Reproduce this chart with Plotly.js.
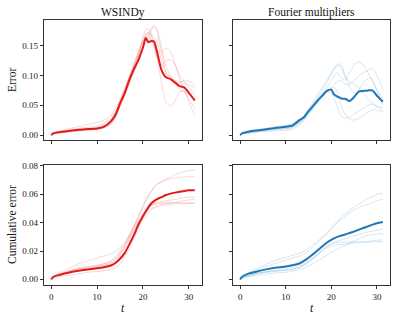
<!DOCTYPE html>
<html>
<head>
<meta charset="utf-8">
<script src="https://cdn.plot.ly/plotly-3.0.1.min.js"></script>
<style>
  html, body { margin: 0; padding: 0; background: #fff; }
  #plot { width: 397px; height: 321px; }
</style>
</head>
<body>
<div id="plot"></div>
<script>
const t = [0, 0.5, 2, 4, 6, 8, 10, 11.5, 13, 14, 15, 16, 17, 18, 19, 20, 20.6, 21.2, 21.8, 22.4, 23, 24, 25, 26, 27, 28, 29, 30, 31.3];

// WSINDy error: mean + individual runs
const wsErrMean = [0, 0.003, 0.005, 0.007, 0.009, 0.010, 0.011, 0.014, 0.023, 0.034, 0.053, 0.070, 0.092, 0.110, 0.126, 0.147, 0.163, 0.156, 0.158, 0.157, 0.142, 0.110, 0.097, 0.094, 0.088, 0.082, 0.080, 0.071, 0.058];
const wsErrRuns = [
  [0, 0.004, 0.007, 0.011, 0.014, 0.018, 0.021, 0.025, 0.033, 0.045, 0.060, 0.078, 0.097, 0.115, 0.132, 0.150, 0.160, 0.170, 0.180, 0.183, 0.175, 0.140, 0.105, 0.095, 0.092, 0.090, 0.088, 0.084, 0.080],
  [0, 0.002, 0.004, 0.006, 0.008, 0.009, 0.010, 0.013, 0.020, 0.030, 0.048, 0.068, 0.090, 0.112, 0.135, 0.165, 0.177, 0.178, 0.170, 0.155, 0.140, 0.140, 0.146, 0.140, 0.120, 0.100, 0.090, 0.080, 0.070],
  [0, 0.003, 0.005, 0.007, 0.009, 0.011, 0.013, 0.016, 0.024, 0.036, 0.055, 0.075, 0.095, 0.115, 0.135, 0.155, 0.168, 0.172, 0.165, 0.150, 0.132, 0.118, 0.125, 0.127, 0.118, 0.095, 0.075, 0.060, 0.045],
  [0, 0.002, 0.004, 0.005, 0.007, 0.008, 0.009, 0.012, 0.018, 0.030, 0.050, 0.072, 0.095, 0.120, 0.140, 0.158, 0.165, 0.168, 0.160, 0.150, 0.130, 0.090, 0.055, 0.048, 0.058, 0.072, 0.074, 0.055, 0.033],
  [0, 0.003, 0.006, 0.009, 0.011, 0.013, 0.015, 0.019, 0.028, 0.040, 0.058, 0.076, 0.098, 0.118, 0.138, 0.160, 0.170, 0.172, 0.168, 0.165, 0.160, 0.125, 0.105, 0.098, 0.090, 0.088, 0.092, 0.090, 0.085],
  [0, 0.003, 0.005, 0.006, 0.007, 0.009, 0.010, 0.012, 0.019, 0.030, 0.048, 0.066, 0.086, 0.105, 0.125, 0.145, 0.155, 0.162, 0.175, 0.184, 0.178, 0.150, 0.115, 0.100, 0.090, 0.078, 0.072, 0.070, 0.068]
];

// Fourier multipliers error
const fmErrMean = [0, 0.003, 0.006, 0.008, 0.010, 0.012, 0.014, 0.016, 0.025, 0.030, 0.040, 0.049, 0.058, 0.066, 0.074, 0.076, 0.068, 0.065, 0.063, 0.061, 0.061, 0.057, 0.064, 0.073, 0.074, 0.075, 0.075, 0.066, 0.056];
const fmErrRuns = [
  [0, 0.003, 0.006, 0.009, 0.012, 0.014, 0.016, 0.019, 0.026, 0.033, 0.042, 0.052, 0.063, 0.075, 0.088, 0.102, 0.110, 0.116, 0.117, 0.110, 0.098, 0.090, 0.085, 0.080, 0.070, 0.060, 0.053, 0.048, 0.046],
  [0, 0.002, 0.004, 0.006, 0.008, 0.009, 0.010, 0.013, 0.020, 0.028, 0.038, 0.048, 0.058, 0.066, 0.072, 0.070, 0.062, 0.050, 0.038, 0.030, 0.028, 0.030, 0.035, 0.040, 0.045, 0.050, 0.052, 0.048, 0.040],
  [0, 0.003, 0.005, 0.008, 0.010, 0.012, 0.013, 0.016, 0.022, 0.030, 0.040, 0.050, 0.060, 0.070, 0.080, 0.092, 0.100, 0.105, 0.100, 0.094, 0.092, 0.105, 0.118, 0.123, 0.118, 0.105, 0.090, 0.075, 0.060],
  [0, 0.002, 0.004, 0.006, 0.008, 0.010, 0.011, 0.013, 0.019, 0.026, 0.036, 0.046, 0.056, 0.066, 0.074, 0.080, 0.085, 0.090, 0.092, 0.090, 0.085, 0.085, 0.092, 0.100, 0.105, 0.108, 0.112, 0.100, 0.076],
  [0, 0.002, 0.003, 0.005, 0.006, 0.007, 0.008, 0.010, 0.016, 0.024, 0.034, 0.044, 0.054, 0.064, 0.072, 0.078, 0.080, 0.074, 0.060, 0.045, 0.035, 0.027, 0.025, 0.028, 0.033, 0.038, 0.042, 0.042, 0.039],
  [0, 0.003, 0.005, 0.007, 0.009, 0.011, 0.012, 0.015, 0.022, 0.032, 0.044, 0.056, 0.068, 0.080, 0.092, 0.104, 0.112, 0.118, 0.120, 0.115, 0.100, 0.080, 0.070, 0.075, 0.088, 0.095, 0.094, 0.075, 0.050]
];

// WSINDy cumulative error
const wsCumMean = [0, 0.0018, 0.0033, 0.0048, 0.0060, 0.0070, 0.0078, 0.0086, 0.0098, 0.0115, 0.0145, 0.0185, 0.0245, 0.031, 0.0385, 0.0445, 0.0478, 0.0510, 0.0535, 0.0552, 0.0565, 0.058, 0.0595, 0.0605, 0.0612, 0.0618, 0.0624, 0.0628, 0.0628];
const wsCumRuns = [
  [0, 0.002, 0.005, 0.008, 0.011, 0.013, 0.015, 0.0165, 0.018, 0.0195, 0.022, 0.026, 0.031, 0.037, 0.044, 0.051, 0.055, 0.059, 0.062, 0.065, 0.067, 0.069, 0.071, 0.072, 0.074, 0.075, 0.076, 0.0768, 0.0772],
  [0, 0.002, 0.004, 0.006, 0.008, 0.009, 0.010, 0.011, 0.0125, 0.015, 0.019, 0.024, 0.030, 0.037, 0.045, 0.052, 0.056, 0.059, 0.062, 0.065, 0.067, 0.0685, 0.070, 0.071, 0.0715, 0.072, 0.0722, 0.0725, 0.0725],
  [0, 0.0015, 0.003, 0.005, 0.0065, 0.0075, 0.0085, 0.0095, 0.011, 0.013, 0.017, 0.022, 0.028, 0.034, 0.040, 0.045, 0.047, 0.049, 0.050, 0.051, 0.052, 0.053, 0.0535, 0.054, 0.0545, 0.055, 0.0555, 0.056, 0.0565],
  [0, 0.001, 0.002, 0.003, 0.004, 0.005, 0.0055, 0.006, 0.0068, 0.008, 0.011, 0.016, 0.022, 0.029, 0.036, 0.042, 0.045, 0.047, 0.049, 0.050, 0.051, 0.052, 0.0525, 0.053, 0.0532, 0.0535, 0.0537, 0.054, 0.054],
  [0, 0.0015, 0.0035, 0.0055, 0.007, 0.008, 0.009, 0.010, 0.0115, 0.014, 0.018, 0.023, 0.029, 0.035, 0.041, 0.046, 0.049, 0.051, 0.052, 0.053, 0.0535, 0.054, 0.054, 0.054, 0.054, 0.054, 0.0538, 0.0536, 0.0535],
  [0, 0.002, 0.004, 0.006, 0.0075, 0.0085, 0.0095, 0.011, 0.013, 0.016, 0.020, 0.025, 0.031, 0.037, 0.042, 0.046, 0.048, 0.050, 0.052, 0.053, 0.054, 0.055, 0.0555, 0.056, 0.0565, 0.057, 0.0575, 0.058, 0.058]
];

// Fourier multipliers cumulative error
const fmCumMean = [0, 0.002, 0.0042, 0.0058, 0.0072, 0.0083, 0.0091, 0.0099, 0.0112, 0.013, 0.0152, 0.0178, 0.0205, 0.0232, 0.0258, 0.0278, 0.0289, 0.0298, 0.0305, 0.0311, 0.0316, 0.0327, 0.0338, 0.035, 0.0362, 0.0374, 0.0386, 0.0396, 0.0404];
const fmCumRuns = [
  [0, 0.002, 0.005, 0.008, 0.011, 0.0135, 0.0155, 0.017, 0.0185, 0.020, 0.022, 0.0245, 0.027, 0.030, 0.033, 0.0365, 0.0385, 0.0405, 0.0425, 0.0445, 0.046, 0.049, 0.051, 0.053, 0.055, 0.057, 0.0585, 0.060, 0.0607],
  [0, 0.002, 0.0045, 0.007, 0.0095, 0.0115, 0.0135, 0.015, 0.0165, 0.018, 0.020, 0.023, 0.026, 0.029, 0.032, 0.0355, 0.0375, 0.0395, 0.0415, 0.043, 0.0445, 0.047, 0.049, 0.0505, 0.052, 0.053, 0.054, 0.0555, 0.0565],
  [0, 0.0015, 0.003, 0.0045, 0.0055, 0.0065, 0.0075, 0.0085, 0.0095, 0.011, 0.013, 0.0155, 0.018, 0.0205, 0.023, 0.025, 0.026, 0.027, 0.0275, 0.028, 0.0285, 0.0295, 0.0305, 0.0315, 0.0325, 0.0335, 0.034, 0.0348, 0.0353],
  [0, 0.001, 0.002, 0.003, 0.0038, 0.0045, 0.005, 0.0058, 0.0068, 0.008, 0.0095, 0.011, 0.013, 0.015, 0.017, 0.019, 0.020, 0.021, 0.022, 0.023, 0.024, 0.0255, 0.027, 0.0285, 0.030, 0.031, 0.0315, 0.032, 0.0325],
  [0, 0.0015, 0.003, 0.0045, 0.0055, 0.006, 0.0065, 0.0072, 0.0085, 0.010, 0.0125, 0.015, 0.018, 0.021, 0.0235, 0.025, 0.0257, 0.026, 0.0262, 0.0263, 0.0264, 0.0265, 0.0265, 0.0265, 0.0266, 0.0268, 0.0272, 0.0276, 0.0278],
  [0, 0.001, 0.0025, 0.004, 0.005, 0.0058, 0.0063, 0.007, 0.0082, 0.0098, 0.012, 0.0145, 0.017, 0.0195, 0.022, 0.0235, 0.024, 0.0243, 0.0245, 0.0247, 0.025, 0.0253, 0.0256, 0.0258, 0.026, 0.0262, 0.0264, 0.0265, 0.0266]
];

const red = '#e31a1c';
const blue = '#1f77b4';
const redThin = 'rgba(227,26,28,0.2)';
const blueThin = 'rgba(31,119,180,0.2)';
const serif = 'Liberation Serif, Times New Roman, serif';

const data = [];
function addPanel(runs, mean, thin, thick, xa, ya) {
  runs.forEach(function(r) {
    data.push({x: t, y: r, xaxis: xa, yaxis: ya, type: 'scatter', mode: 'lines',
      line: {color: thin, width: 0.9, shape: 'spline', smoothing: 0.6}, hoverinfo: 'skip'});
  });
  data.push({x: t, y: mean, xaxis: xa, yaxis: ya, type: 'scatter', mode: 'lines',
    line: {color: thick, width: 2, shape: 'spline', smoothing: 0.6}});
}
addPanel(wsErrRuns, wsErrMean, redThin, red, 'x', 'y');
addPanel(fmErrRuns, fmErrMean, blueThin, blue, 'x2', 'y2');
addPanel(wsCumRuns, wsCumMean, redThin, red, 'x3', 'y3');
addPanel(fmCumRuns, fmCumMean, blueThin, blue, 'x4', 'y4');

const W = 397, H = 321;
const colL = [44 / W, 202 / W];
const colR = [233 / W, 390 / W];
const rowTop = [1 - 140 / H, 1 - 20 / H];
const rowBot = [1 - 285 / H, 1 - 165 / H];

function xax(dom, anchor, labels) {
  return {domain: dom, anchor: anchor, range: [-1.565, 32.865], tickvals: [0, 10, 20, 30],
    showticklabels: labels, ticks: 'outside', ticklen: 3.5, tickwidth: 0.8, tickcolor: '#000',
    showline: true, linecolor: '#000', linewidth: 0.8, mirror: true,
    showgrid: false, zeroline: false, tickfont: {family: serif, size: 9, color: '#222'}};
}
function yax(dom, anchor, range, dtick, labels) {
  return {domain: dom, anchor: anchor, range: range, dtick: dtick, tick0: 0, tickformat: '.2f',
    showticklabels: labels, ticks: 'outside', ticklen: 3.5, tickwidth: 0.8, tickcolor: '#000',
    showline: true, linecolor: '#000', linewidth: 0.8, mirror: true,
    showgrid: false, zeroline: false, tickfont: {family: serif, size: 9, color: '#222'}};
}

const errRange = [-0.0084, 0.1933];
const cumRange = [-0.004, 0.0807];

const layout = {
  width: W, height: H,
  margin: {l: 0, r: 0, t: 0, b: 0},
  paper_bgcolor: '#fff', plot_bgcolor: '#fff',
  showlegend: false,
  xaxis: xax(colL, 'y', false),
  xaxis2: xax(colR, 'y2', false),
  xaxis3: xax(colL, 'y3', true),
  xaxis4: xax(colR, 'y4', true),
  yaxis: yax(rowTop, 'x', errRange, 0.05, true),
  yaxis2: yax(rowTop, 'x2', errRange, 0.05, false),
  yaxis3: yax(rowBot, 'x3', cumRange, 0.02, true),
  yaxis4: yax(rowBot, 'x4', cumRange, 0.02, false),
  annotations: [
    {text: 'WSINDy', x: 123 / W, y: 1 - 12 / H},
    {text: 'Fourier multipliers', x: 311.5 / W, y: 1 - 12 / H},
    {text: 'Error', x: 12 / W, y: 1 - 80 / H, textangle: -90},
    {text: 'Cumulative error', x: 12 / W, y: 1 - 225 / H, textangle: -90},
    {text: '<i>t</i>', x: 123 / W, y: 1 - 308 / H},
    {text: '<i>t</i>', x: 311.5 / W, y: 1 - 308 / H}
  ].map(function(a) {
    return Object.assign({xref: 'paper', yref: 'paper', showarrow: false,
      xanchor: 'center', yanchor: 'middle', font: {family: serif, size: 11.5, color: '#111'}}, a);
  })
};

Plotly.newPlot('plot', data, layout, {staticPlot: true});
</script>
</body>
</html>
